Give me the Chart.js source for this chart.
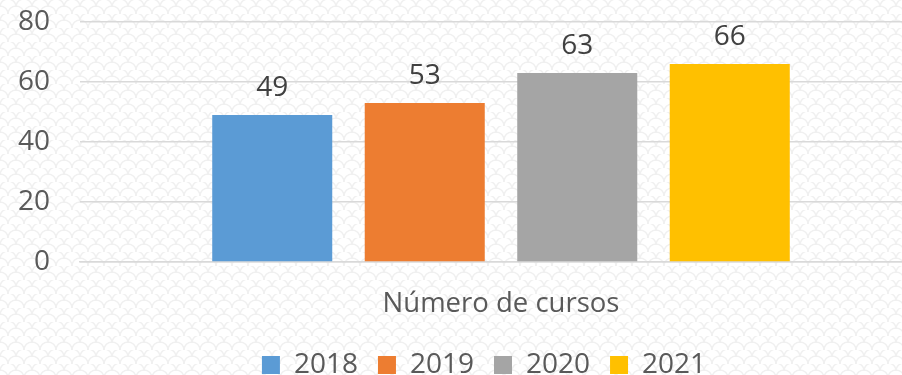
<!DOCTYPE html>
<html>
<head>
<meta charset="utf-8">
<script src="https://cdn.jsdelivr.net/npm/chart.js@4.4.1/dist/chart.umd.min.js"></script>
<style>
  html, body { margin: 0; padding: 0; background: #ffffff; overflow: hidden; }
  #wrap { position: relative; width: 922px; height: 389px; }
</style>
</head>
<body>
<div id="wrap"><canvas id="chart" width="922" height="389"></canvas></div>
<script>
// Courses offered per year
const categories = ['Número de cursos'];
const seriesNames = ['2018', '2019', '2020', '2021'];
const courses2018 = [49];
const courses2019 = [53];
const courses2020 = [63];
const courses2021 = [66];
const yTickStep = 20;
const yMax = 80;

const seriesColors = ['#5b9bd5', '#ed7d31', '#a5a5a5', '#ffc000'];
const seriesValues = [courses2018, courses2019, courses2020, courses2021];

const FONT = "'Open Sans', sans-serif";

// Light "fish scale" texture behind the chart
function makeTexture() {
  const c = document.createElement('canvas');
  c.width = 16; c.height = 14;
  const g = c.getContext('2d');
  g.fillStyle = '#ffffff';
  g.fillRect(0, 0, 16, 14);
  g.strokeStyle = '#f0f0f0';
  g.lineWidth = 1.5;
  const arc = (cx, cy) => { g.beginPath(); g.arc(cx, cy, 8, Math.PI, 2 * Math.PI); g.stroke(); };
  arc(8, 7); arc(0, 14); arc(16, 14); arc(0, 0); arc(16, 0);
  return c;
}

const texturePlugin = {
  id: 'texture',
  beforeDraw(chart) {
    const ctx = chart.ctx;
    ctx.save();
    ctx.fillStyle = ctx.createPattern(makeTexture(), 'repeat');
    ctx.fillRect(0, 0, chart.width, chart.height);
    ctx.restore();
  }
};

// Shift the legend row so it sits centred under the visible plot
const legendShift = {
  id: 'legendShift',
  afterUpdate(chart) {
    const lg = chart.legend;
    if (lg) { lg.left += 23; lg.right += 23; }
  }
};

// Value labels above each bar
const valueLabels = {
  id: 'valueLabels',
  afterDatasetsDraw(chart) {
    const ctx = chart.ctx;
    ctx.save();
    ctx.font = '28px ' + FONT;
    ctx.fillStyle = '#404040';
    ctx.textAlign = 'center';
    ctx.textBaseline = 'alphabetic';
    chart.data.datasets.forEach((ds, i) => {
      chart.getDatasetMeta(i).data.forEach((bar, j) => {
        ctx.fillText(String(ds.data[j]), bar.x, bar.y - 19);
      });
    });
    ctx.restore();
  }
};

new Chart(document.getElementById('chart'), {
  type: 'bar',
  data: {
    labels: categories,
    datasets: seriesNames.map((name, i) => ({
      label: name,
      data: seriesValues[i],
      backgroundColor: seriesColors[i],
      borderWidth: 0,
      categoryPercentage: 0.7245,
      barPercentage: 0.787
    }))
  },
  options: {
    responsive: false,
    animation: false,
    layout: { padding: 0 },
    scales: {
      y: {
        min: 0,
        max: yMax,
        afterFit(scale) {
          scale.width = 80;
          scale.paddingTop = 22;
          scale.paddingBottom = 0;
        },
        grid: { color: '#d9d9d9', lineWidth: 1.5, drawTicks: false },
        border: { display: false },
        ticks: { stepSize: yTickStep, padding: 30, color: '#595959', font: { family: FONT, size: 28 } }
      },
      x: {
        afterFit(scale) { scale.height = 69; },
        grid: { display: false },
        border: { display: true, color: '#d9d9d9', width: 1.5 },
        ticks: { maxRotation: 0, padding: 18, color: '#595959', font: { family: FONT, size: 27.5 } }
      }
    },
    plugins: {
      legend: {
        position: 'bottom',
        labels: {
          boxWidth: 18,
          boxHeight: 18,
          padding: 20,
          color: '#595959',
          font: { family: FONT, size: 28 }
        }
      },
      tooltip: { enabled: false }
    }
  },
  plugins: [texturePlugin, legendShift, valueLabels]
});
</script>
</body>
</html>
